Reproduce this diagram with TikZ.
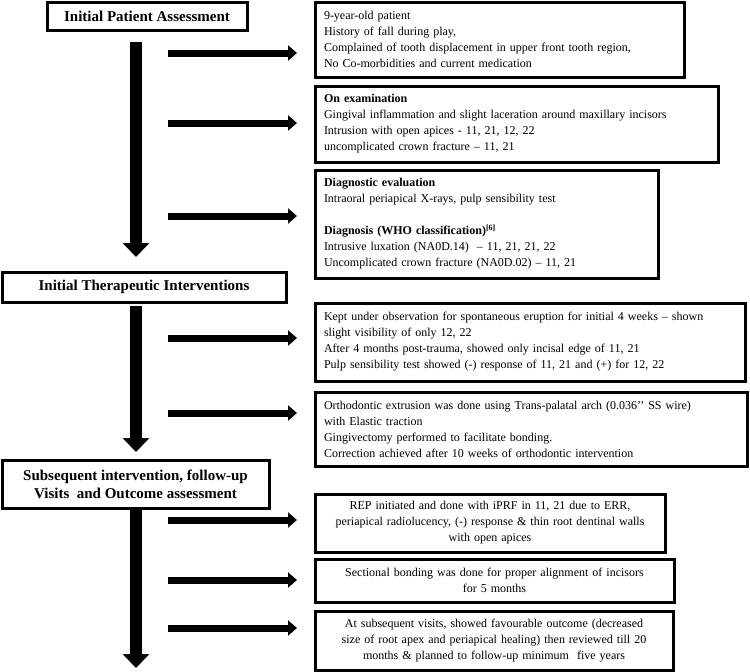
\documentclass[tikz,border=0pt]{standalone}
\usepackage{fontspec}
\setmainfont{Liberation Serif}
\usetikzlibrary{arrows.meta}
\tikzset{stage/.style={draw, line width=3pt, font=\fontsize{15}{18}\selectfont\bfseries, align=center, inner sep=0pt, outer sep=0pt, anchor=north west},
         infobox/.style={draw, line width=3pt, font=\fontsize{12}{16}\selectfont, align=left, inner xsep=9pt, inner ysep=0pt, outer sep=0pt, anchor=north west},
         notebox/.style={infobox, align=center, inner xsep=3pt},
         mainflow/.style={line width=12pt, -{Triangle[length=14pt,width=26pt]}},
         sideflow/.style={line width=7pt, -{Triangle[length=9pt,width=15pt]}}}

\begin{document}
\begin{tikzpicture}[x=1pt,y=-1pt]
\useasboundingbox (0,0) rectangle (750,672);
% stages
\node [stage, minimum width=200pt, minimum height=28pt] (initial) at (47,2) {Initial Patient Assessment};
\node [stage, minimum width=284pt, minimum height=30pt] (therapy) at (2,272) {Initial Therapeutic Interventions};
\node [stage, minimum width=267pt, minimum height=48pt] (followup) at (2,460) {Subsequent intervention, follow-up\\ Visits \ and Outcome assessment};
% details
\node [infobox, text width=351pt, minimum height=75pt] (history) at (315,2) {9-year-old patient\\ History of fall during play,\\ Complained of tooth displacement in upper front tooth region,\\ No Co-morbidities and current medication};
\node [infobox, text width=385pt, minimum height=76pt] (exam) at (315,86) {\textbf{On examination}\\ Gingival inflammation and slight laceration around maxillary incisors\\ Intrusion with open apices - 11, 21, 12, 22\\ uncomplicated crown fracture – 11, 21};
\node [infobox, text width=325pt, minimum height=108pt] (diagnosis) at (315,170) {\textbf{Diagnostic evaluation}\\ Intraoral periapical X-rays, pulp sensibility test\\[16pt] \textbf{Diagnosis (WHO classification)\textsuperscript{[6]}}\\ Intrusive luxation (NA0D.14) \ – 11, 21, 21, 22\\ Uncomplicated crown fracture (NA0D.02) – 11, 21};
\node [infobox, text width=412pt, minimum height=78pt] (observe) at (315,303) {Kept under observation for spontaneous eruption for initial 4 weeks – shown\\ slight visibility of only 12, 22\\ After 4 months post-trauma, showed only incisal edge of 11, 21\\ Pulp sensibility test showed (-) response of 11, 21 and (+) for 12, 22};
\node [infobox, text width=414pt, minimum height=74pt] (extrusion) at (315,392) {Orthodontic extrusion was done using Trans-palatal arch (0.036’’ SS wire)\\ with Elastic traction\\ Gingivectomy performed to facilitate bonding.\\ Correction achieved after 10 weeks of orthodontic intervention};
\node [notebox, text width=344pt, minimum height=58pt] (rep) at (315,494) {REP initiated and done with iPRF in 11, 21 due to ERR,\\ periapical radiolucency, (-) response \& thin root dentinal walls\\ with open apices};
\node [notebox, text width=353pt, minimum height=43pt] (bonding) at (315,559) {Sectional bonding was done for proper alignment of incisors\\ for 5 months};
\node [notebox, text width=352pt, minimum height=59pt] (outcome) at (315,611) {At subsequent visits, showed favourable outcome (decreased\\ size of root apex and periapical healing) then reviewed till 20\\ months \& planned to follow-up minimum \ five years};
% main flow
\coordinate (m1s) at (136,42);  \coordinate (m1e) at (136,257);
\coordinate (m2s) at (136,306); \coordinate (m2e) at (136,452);
\coordinate (m3s) at (136,510); \coordinate (m3e) at (136,668);
\foreach \i in {1,2,3}
  \draw [mainflow] (m\i s) -- (m\i e);
% side arrows
\foreach \y [count=\i] in {53,123,216,338,413,520,580,628} {
  \coordinate (s\i) at (168,\y);
  \coordinate (t\i) at (297,\y);
  \draw [sideflow] (s\i) -- (t\i);
}
\end{tikzpicture}
\end{document}
